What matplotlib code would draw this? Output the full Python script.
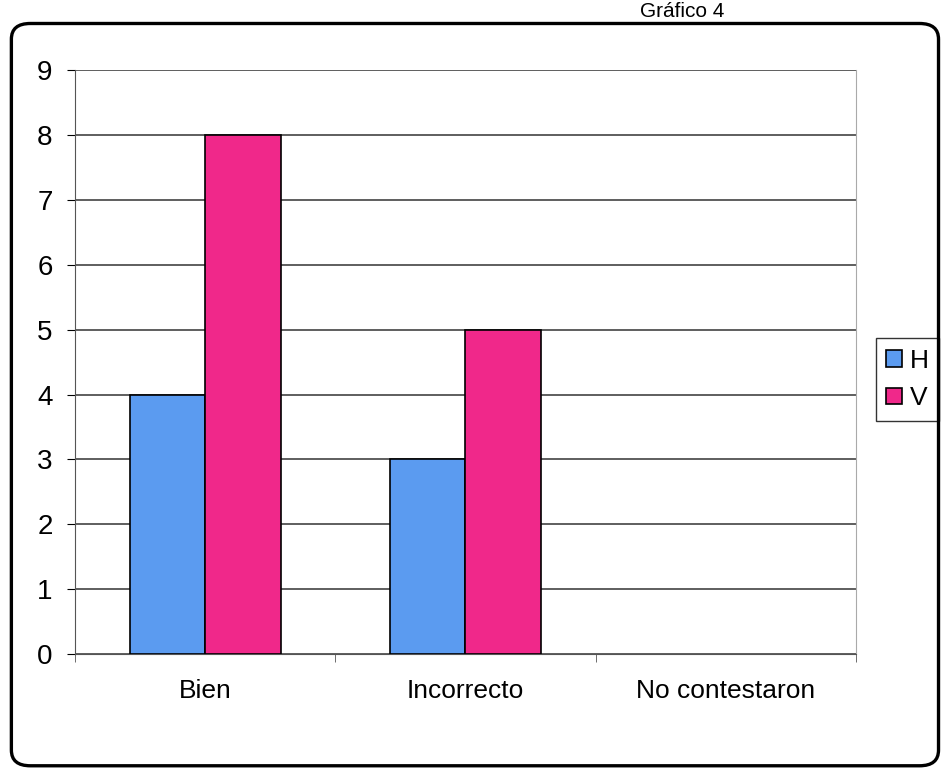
import matplotlib.pyplot as plt
from matplotlib.patches import FancyBboxPatch
import numpy as np

categorias = ['Bien', 'Incorrecto', 'No contestaron']
h_vals = [4, 3, 0]
v_vals = [8, 5, 0]
series = ['H', 'V']

fig = plt.figure(figsize=(9.48, 7.83), dpi=100)
fig.patch.set_facecolor('white')

# marco redondeado del grafico
marco = FancyBboxPatch((0.012, 0.022), 0.978, 0.948,
                       boxstyle='round,pad=0,rounding_size=0.02',
                       transform=fig.transFigure, fill=False,
                       edgecolor='black', linewidth=2.4)
fig.patches.append(marco)

# titulo (en el original queda casi fuera de la foto)
fig.text(0.72, 0.998, 'Gráfico 4', ha='center', va='top', fontsize=15,
         family='Liberation Sans')

ax = fig.add_axes([0.079, 0.165, 0.824, 0.745])
x = np.arange(len(categorias))
w = 0.29
lw_h = [1.2 if v > 0 else 0 for v in h_vals]
lw_v = [1.2 if v > 0 else 0 for v in v_vals]
ax.bar(x - w / 2, h_vals, w, color='#5b9bf0', edgecolor='black', linewidth=lw_h, label=series[0], zorder=3)
ax.bar(x + w / 2, v_vals, w, color='#f0288a', edgecolor='black', linewidth=lw_v, label=series[1], zorder=3)

ax.set_xlim(-0.5, 2.5)
ax.set_ylim(0, 9)
ax.set_yticks(range(10))
ax.yaxis.grid(True, color='#333333', linewidth=1.1, zorder=0)
ax.set_xticks(x)
ax.set_xticklabels(categorias, family='Liberation Sans', fontsize=19)
ax.set_xticks([-0.5, 0.5, 1.5, 2.5], minor=True)
ax.tick_params(axis='x', which='major', length=0, pad=18)
ax.tick_params(axis='x', which='minor', length=6, color='#555555')
ax.tick_params(axis='y', length=6, labelsize=20, pad=10)
for lbl in ax.get_yticklabels():
    lbl.set_family('Liberation Sans')

ax.spines['top'].set_visible(False)
ax.spines['left'].set_color('#555555')
ax.spines['bottom'].set_color('#555555')
ax.spines['right'].set_color('#aaaaaa')

leg = ax.legend(loc='center left', bbox_to_anchor=(1.025, 0.47), frameon=True,
                fancybox=False, edgecolor='black',
                handlelength=0.6, handleheight=0.6, handletextpad=0.3,
                borderpad=0.4, borderaxespad=0, labelspacing=0.5,
                prop={'family': 'Liberation Sans', 'size': 19})
leg.get_frame().set_linewidth(1.0)

fig.savefig('out.png', dpi=100)
